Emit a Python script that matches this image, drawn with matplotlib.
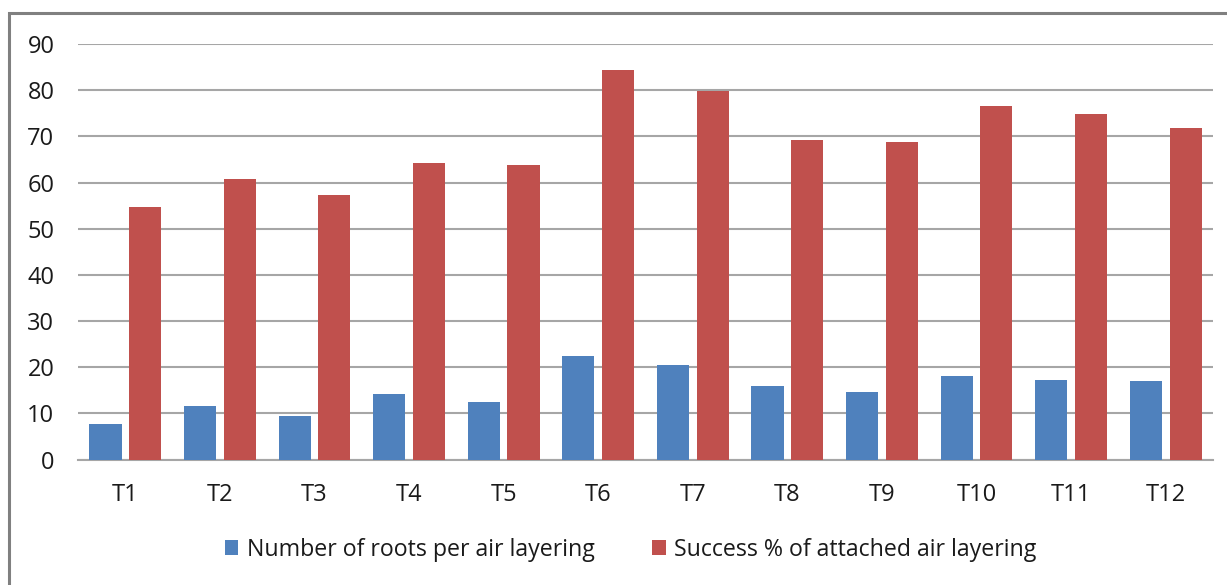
import numpy as np
import matplotlib.pyplot as plt
from matplotlib.patches import Rectangle

# tratamientos y valores medidos
tratamientos = ['T1', 'T2', 'T3', 'T4', 'T5', 'T6', 'T7', 'T8', 'T9', 'T10', 'T11', 'T12']
raices = [7.6, 11.6, 9.4, 14.1, 12.5, 22.4, 20.5, 15.9, 14.6, 18.1, 17.3, 17.1]
exito = [54.6, 60.8, 57.4, 64.2, 63.7, 84.3, 79.8, 69.3, 68.8, 76.5, 74.8, 71.8]

plt.rcParams['font.family'] = ['Open Sans', 'DejaVu Sans']

fig = plt.figure(figsize=(12.27, 5.85), dpi=100)
ax = fig.add_axes([0.0636, 0.2145, 0.925, 0.7103])

x = np.arange(len(tratamientos))
ancho = 0.34
ax.bar(x - 0.21, raices, ancho, color='#4F81BD', label='Number of roots per air layering', zorder=3)
ax.bar(x + 0.21, exito, ancho, color='#C0504D', label='Success % of attached air layering', zorder=3)

ax.set_xlim(-0.5, len(tratamientos) - 0.5)
ax.set_ylim(0, 90)
ax.set_yticks(range(0, 91, 10))
ax.set_xticks(x)
ax.set_xticklabels(tratamientos)
ax.tick_params(axis='both', length=0, labelsize=17, colors='#1a1a1a')
ax.tick_params(axis='y', pad=17)
ax.tick_params(axis='x', pad=17)
ax.grid(axis='y', color='#A6A6A6', linewidth=1.5, zorder=0)
for lado in ['top', 'right', 'left']:
    ax.spines[lado].set_visible(False)
ax.spines['bottom'].set_color('#A6A6A6')
ax.spines['bottom'].set_linewidth(1.5)

fig.legend(loc='center', bbox_to_anchor=(0.514, 0.06), ncol=2, frameon=False,
           fontsize=16.7, handlelength=0.6, handleheight=0.6, handletextpad=0.35,
           columnspacing=2.5, labelcolor='#1a1a1a')

# marco gris alrededor del gráfico
fig.patches.append(Rectangle((9 / 1227, -0.1), 1.2, 1.1 - 13 / 585,
                             transform=fig.transFigure, fill=False,
                             edgecolor='#808080', linewidth=2.2))

fig.savefig('out.png', dpi=100)
